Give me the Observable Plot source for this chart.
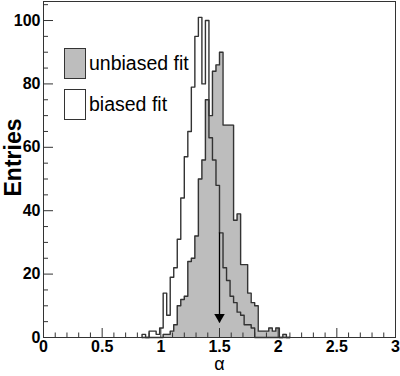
<!DOCTYPE html>
<html><head><meta charset="utf-8">
<script src="https://cdn.jsdelivr.net/npm/d3@7"></script>
<script src="https://cdn.jsdelivr.net/npm/@observablehq/plot@0.6"></script>
<style>
body{margin:0;background:#fff;}
#wrap{position:relative;width:400px;height:376px;font-family:"Liberation Sans",Arial,sans-serif;}
.box{position:absolute;left:64px;width:20px;height:29px;border:1px solid #333;box-sizing:content-box;}
.lab{position:absolute;left:89px;font-size:19.5px;color:#000;line-height:1;white-space:nowrap;}
</style></head><body><div id="wrap"></div>
<script>
// histogram bins: first bin starts at binStart, each binWidth wide
const binStart = 0.84;
const binWidth = 0.03;
const biasedCounts = [1,0,2,2,1,3,14,7,19,22,31,44,57,65,79,95,101,80,100,63,56,48,33,22,18,13,11,8,7,4,4,3,0,0,0,0,0,0,0,0,0,0];
const unbiasedCounts = [0,0,0,0,0,0,1,1,2,4,10,12,13,24,25,32,50,56,75,70,84,86,90,67,67,67,37,39,23,23,14,11,10,2,2,2,3,2,3,0,1,0];
const seriesNames = ["unbiased fit","biased fit"];
const xMajor = [0,0.5,1,1.5,2,2.5,3];
const xMinor = [0.1,0.2,0.3,0.4,0.6,0.7,0.8,0.9,1.1,1.2,1.3,1.4,1.6,1.7,1.8,1.9,2.1,2.2,2.3,2.4,2.6,2.7,2.8,2.9];
const yMajor = [0,20,40,60,80,100];
const yMinor = [5,10,15,25,30,35,45,50,55,65,70,75,85,90,95,105];
const xTitle = "α";
const yTitle = "Entries";
const arrowAt = 1.5, arrowTop = 33, arrowTip = 4.6;

const W = 400, H = 376, mL = 43, mR = 5, mT = 1, mB = 39;
const fw = W - mL - mR, fh = H - mT - mB;

function steps(counts){
  const pts = [{x: binStart, y: 0}];
  counts.forEach((c,i)=>pts.push({x: binStart + i*binWidth, y: c}));
  pts.push({x: binStart + counts.length*binWidth, y: 0});
  return pts;
}
const ub = steps(unbiasedCounts), bi = steps(biasedCounts);
const ink = "#333";

const chart = Plot.plot({
  width: W, height: H,
  marginLeft: mL, marginRight: mR, marginTop: mT, marginBottom: mB,
  style: {fontFamily: '"Liberation Sans", Arial, sans-serif', background: "#fff"},
  x: {domain: [0,3], axis: null},
  y: {domain: [0,106], axis: null},
  marks: [
    Plot.areaY(ub, {x: "x", y: "y", curve: "step-after", fill: "#bdbdbd"}),
    Plot.line(ub, {x: "x", y: "y", curve: "step-after", stroke: ink, strokeWidth: 1.4}),
    Plot.line(bi, {x: "x", y: "y", curve: "step-after", stroke: ink, strokeWidth: 1.4}),
    Plot.ruleX([arrowAt], {x: d=>d, y1: arrowTip, y2: arrowTop, stroke: "#000", strokeWidth: 1.3}),
    Plot.dot([arrowAt], {x: d=>d, y: arrowTip, symbol: "triangle", rotate: 180, r: 3.9, fill: "#000", stroke: "none", dy: -6}),
    Plot.frame({stroke: ink, strokeWidth: 1}),
    Plot.ruleX(xMajor, {x: d=>d, insetTop: fh - 9, stroke: ink}),
    Plot.ruleX(xMinor, {x: d=>d, insetTop: fh - 4.5, stroke: ink}),
    Plot.ruleY(yMajor, {y: d=>d, insetRight: fw - 10, stroke: ink}),
    Plot.ruleY(yMinor, {y: d=>d, insetRight: fw - 5, stroke: ink}),
    Plot.axisX({ticks: xMajor, tickSize: 0, tickPadding: 3, label: null, tickFormat: d=>String(d), fontSize: 16, fontWeight: "bold", fill: "#000"}),
    Plot.axisY({ticks: yMajor, tickSize: 0, tickPadding: 3, label: null, tickFormat: d=>String(d), fontSize: 16, fontWeight: "bold", fill: "#000"}),
    Plot.text([xTitle], {text: d=>d, frameAnchor: "bottom", lineAnchor: "middle", textAnchor: "middle", dy: 27, fontSize: 18, fill: "#000"}),
    Plot.text([yTitle], {text: d=>d, frameAnchor: "left", rotate: -90, textAnchor: "middle", lineAnchor: "middle", dx: -30, dy: -12, fontSize: 23, fontWeight: "bold", fill: "#000"})
  ]
});
const wrap = document.getElementById("wrap");
wrap.appendChild(chart);
const tops = [48, 89], fills = ["#bdbdbd", "#fff"], textY = [54, 95];
seriesNames.forEach((n,i)=>{
  const b = document.createElement("div"); b.className = "box"; b.style.top = tops[i]+"px"; b.style.background = fills[i]; wrap.appendChild(b);
  const t = document.createElement("div"); t.className = "lab"; t.style.top = textY[i]+"px"; t.textContent = n; wrap.appendChild(t);
});
</script></body></html>
